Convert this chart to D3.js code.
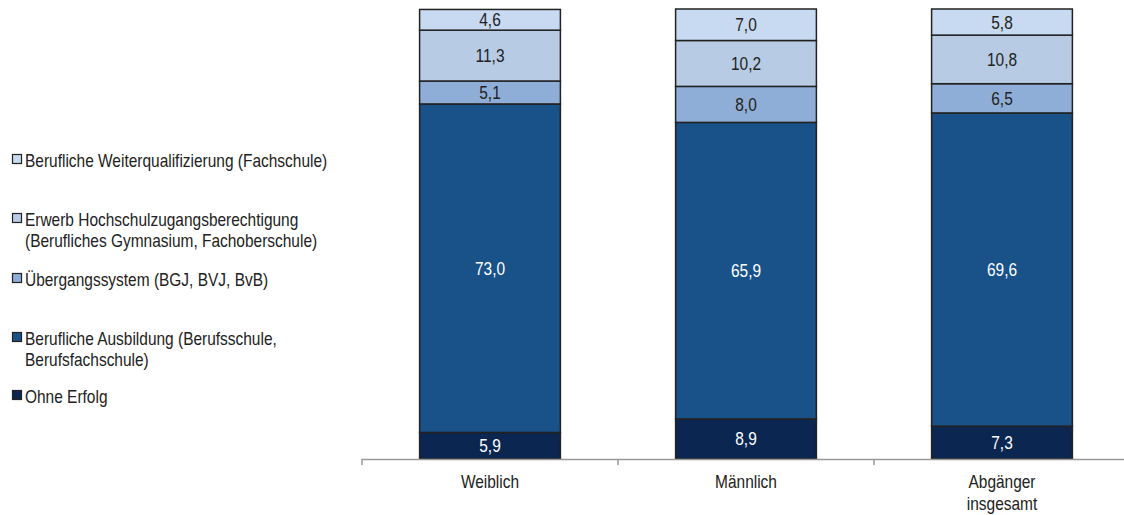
<!DOCTYPE html>
<html>
<head>
<meta charset="utf-8">
<script src="https://cdn.jsdelivr.net/npm/d3@7"></script>
<style>
  body { margin: 0; background: #fff; }
  text { font-family: "Liberation Sans", Arial, sans-serif; font-size: 18px; }
</style>
</head>
<body>
<div id="chart"></div>
<script>
const categories = ["Weiblich", "Männlich", "Abgänger insgesamt"];
const legendLines = [
  ["Ohne Erfolg"],
  ["Berufliche Ausbildung (Berufsschule,", "Berufsfachschule)"],
  ["Übergangssystem (BGJ, BVJ, BvB)"],
  ["Erwerb Hochschulzugangsberechtigung", "(Berufliches Gymnasium, Fachoberschule)"],
  ["Berufliche Weiterqualifizierung (Fachschule)"]
];
const ohneErfolg = [5.9, 8.9, 7.3];
const ausbildung = [73.0, 65.9, 69.6];
const uebergang = [5.1, 8.0, 6.5];
const hochschulzugang = [11.3, 10.2, 10.8];
const weiterqual = [4.6, 7.0, 5.8];
const colors = ["#0b2650", "#195189", "#8eaed7", "#b7cbe4", "#c7daf1"];
const textColors = ["#fff", "#fff", "#222", "#222", "#222"];

const series = [ohneErfolg, ausbildung, uebergang, hochschulzugang, weiterqual];

const width = 1124, height = 515;
const sx = 0.86; // narrow font look
const svg = d3.select("#chart").append("svg")
  .attr("width", width)
  .attr("height", height);

// text helper: condensed text at (x, y)
function label(parent, px, py, str, anchor, fill) {
  return parent.append("text")
    .attr("transform", `translate(${px},${py}) scale(${sx},1)`)
    .attr("text-anchor", anchor)
    .attr("fill", fill)
    .text(str);
}

const x = d3.scaleBand().domain(categories).range([362, 1130])
  .paddingInner(0.45).paddingOuter(0.225);
const y = d3.scaleLinear().domain([0, 100]).range([459, 9]);

const rows = categories.map((c, i) => {
  const r = { cat: c };
  series.forEach((s, k) => r["s" + k] = s[i]);
  return r;
});
const stack = d3.stack().keys(series.map((s, k) => "s" + k));
const layers = stack(rows);

layers.forEach((layer, k) => {
  const g = svg.append("g");
  g.selectAll("rect")
    .data(layer)
    .enter().append("rect")
    .attr("x", d => x(d.data.cat))
    .attr("y", d => y(d[1]))
    .attr("width", x.bandwidth())
    .attr("height", d => y(d[0]) - y(d[1]))
    .attr("fill", colors[k])
    .attr("stroke", "#222")
    .attr("stroke-width", 1.5);
  layer.forEach(d => {
    label(g, x(d.data.cat) + x.bandwidth() / 2, (y(d[0]) + y(d[1])) / 2 + 6.5,
      (d[1] - d[0]).toFixed(1).replace(".", ","), "middle", textColors[k]);
  });
});

// axis
const axis = svg.append("g");
axis.append("line")
  .attr("x1", 362).attr("x2", width)
  .attr("y1", 459.5).attr("y2", 459.5)
  .attr("stroke", "#999").attr("stroke-width", 1.5);
const bounds = categories.map(c => x(c) - x.step() * x.paddingOuter());
axis.selectAll("line.tick")
  .data(bounds)
  .enter().append("line")
  .attr("class", "tick")
  .attr("x1", d => d).attr("x2", d => d)
  .attr("y1", 459).attr("y2", 465)
  .attr("stroke", "#999").attr("stroke-width", 1.5);

const catLines = { "Abgänger insgesamt": ["Abgänger", "insgesamt"] };
categories.forEach(c => {
  const lines = catLines[c] || [c];
  lines.forEach((l, i) => {
    label(svg, x(c) + x.bandwidth() / 2, 488 + i * 22, l, "middle", "#222");
  });
});

// legend (top to bottom = top of stack first)
const legendY = [396, 338, 279, 219, 160];
legendLines.forEach((lines, k) => {
  const g = svg.append("g");
  g.append("rect")
    .attr("x", 12.5).attr("y", legendY[k] - 5.5)
    .attr("width", 9).attr("height", 9)
    .attr("fill", colors[k])
    .attr("stroke", "#222").attr("stroke-width", 1.2);
  lines.forEach((l, i) => {
    label(g, 25, legendY[k] + i * 21 + 6.5, l, "start", "#222");
  });
});
</script>
</body>
</html>
